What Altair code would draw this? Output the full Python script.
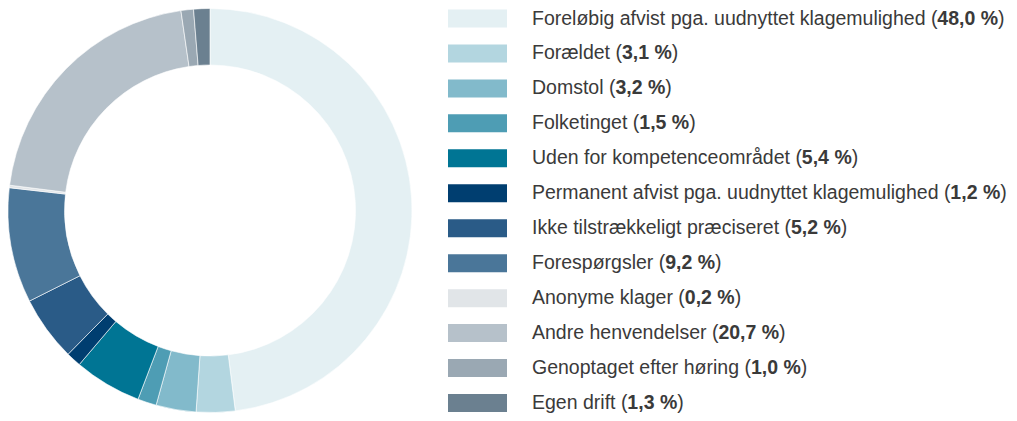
import altair as alt
import pandas as pd

labels = [
    "Foreløbig afvist pga. uudnyttet klagemulighed",
    "Forældet",
    "Domstol",
    "Folketinget",
    "Uden for kompetenceområdet",
    "Permanent afvist pga. uudnyttet klagemulighed",
    "Ikke tilstrækkeligt præciseret",
    "Forespørgsler",
    "Anonyme klager",
    "Andre henvendelser",
    "Genoptaget efter høring",
    "Egen drift",
]
values = [48.0, 3.1, 3.2, 1.5, 5.4, 1.2, 5.2, 9.2, 0.2, 20.7, 1.0, 1.3]
colors = [
    "#e4f0f3", "#b3d6e0", "#82bacb", "#4e9db4", "#007594", "#003e70",
    "#2a5b87", "#4a7699", "#e1e5e8", "#b6c1ca", "#9aa8b3", "#6b8090",
]

FONT = "Liberation Sans"
FS = 19.5

# Arial / Liberation Sans advance widths (1/1000 em)
REG = {
    " ": 278, "a": 556, "b": 556, "c": 500, "d": 556, "e": 556, "f": 278, "g": 556,
    "h": 556, "i": 222, "j": 222, "k": 500, "l": 222, "m": 833, "n": 556, "o": 556,
    "p": 556, "q": 556, "r": 333, "s": 500, "t": 278, "u": 556, "v": 500, "w": 722,
    "x": 500, "y": 500, "z": 500, "æ": 889, "ø": 611, "å": 556, ".": 278, "(": 333,
    ")": 333, "A": 667, "D": 722, "E": 667, "F": 611, "G": 778, "I": 278, "P": 667,
    "U": 722,
}
BOLD = {c: 556 for c in "0123456789"}
BOLD.update({",": 278, " ": 278, "%": 889})


def width(s, table):
    return sum(table.get(ch, 556) for ch in s) * FS / 1000.0


X0 = 524
pct = [f"{v:.1f}".replace(".", ",") + " %" for v in values]
pre = [f"{l} (" for l in labels]
bx = [X0 + width(p, REG) for p in pre]
cx = [b + width(t, BOLD) for b, t in zip(bx, pct)]

df = pd.DataFrame({
    "label": labels, "value": values, "idx": list(range(len(labels))),
    "pre": pre, "pct": pct, "close": [")"] * len(labels), "bx": bx, "cx": cx,
})

color = alt.Color("label:N", scale=alt.Scale(domain=labels, range=colors), legend=None)
yenc = alt.Y("label:N", sort=labels, axis=None,
             scale=alt.Scale(type="point", range=[10.5, 395], padding=0))

base = alt.Chart(df)

donut = base.mark_arc(outerRadius=202, innerRadius=145.5, stroke="white", strokeWidth=0.6).encode(
    theta=alt.Theta("value:Q", stack=True),
    color=color,
    order=alt.Order("idx:Q"),
    x=alt.value(202),
    y=alt.value(202.5),
)

swatch = base.mark_rule(strokeWidth=18).encode(
    x=alt.value(440), x2=alt.value(499), y=yenc, color=color,
)

t1 = base.mark_text(align="left", baseline="middle", font=FONT, fontSize=FS, color="#3a3a3a").encode(
    x=alt.value(X0), y=yenc, text="pre:N",
)
t2 = base.mark_text(align="left", baseline="middle", font=FONT, fontSize=FS, fontWeight="bold",
                    color="#3a3a3a").encode(
    x=alt.X("bx:Q", scale=None), y=yenc, text="pct:N",
)
t3 = base.mark_text(align="left", baseline="middle", font=FONT, fontSize=FS, color="#3a3a3a").encode(
    x=alt.X("cx:Q", scale=None), y=yenc, text="close:N",
)

chart = alt.layer(donut, swatch, t1, t2, t3).properties(
    width=1001, height=405, padding=0, autosize=alt.AutoSizeParams(type="none"),
    background="white",
).configure_view(strokeWidth=0)

chart.save("out.html", embed_options={"renderer": "svg", "actions": False})
